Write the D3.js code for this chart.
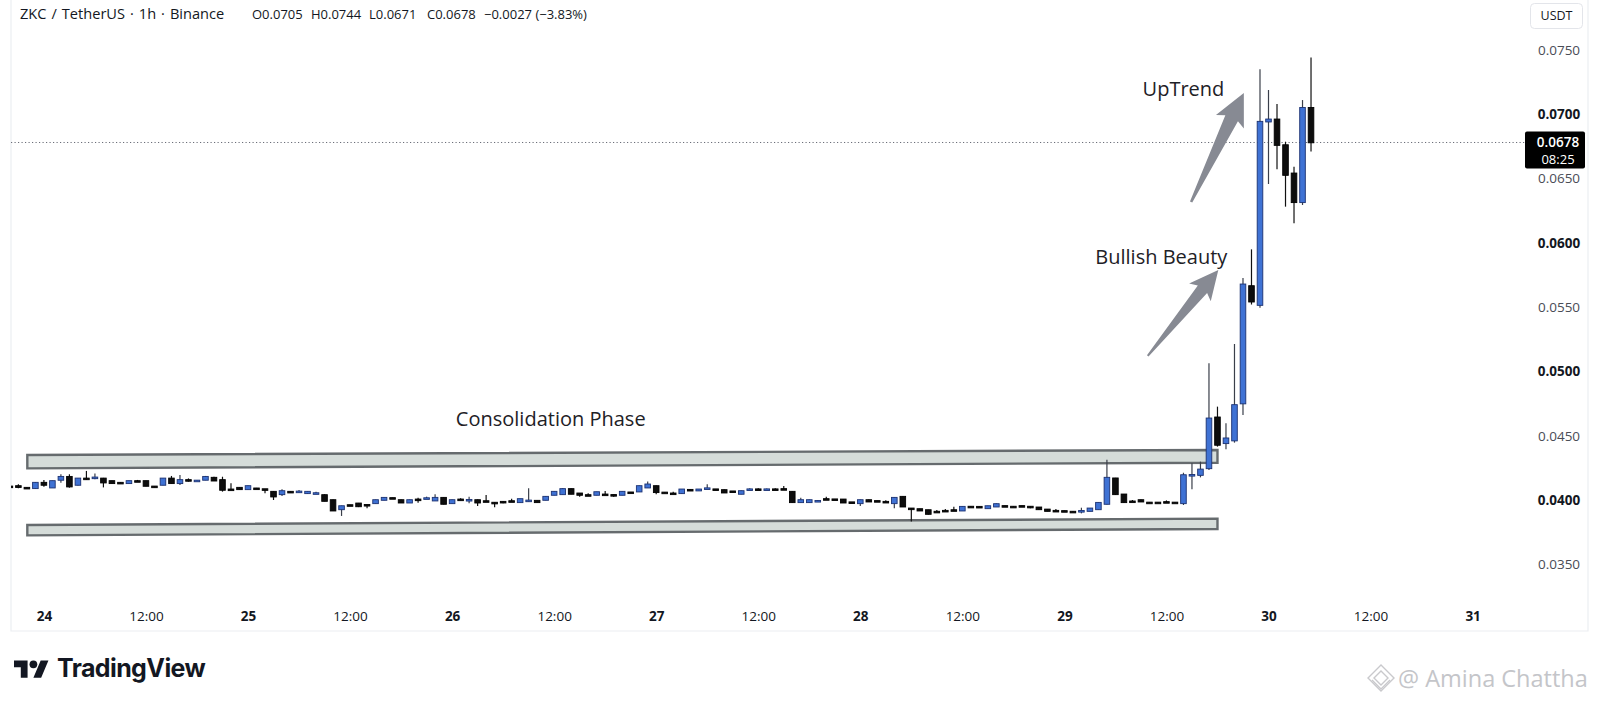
<!DOCTYPE html>
<html>
<head>
<meta charset="utf-8">
<script src="https://cdn.jsdelivr.net/npm/d3@7"></script>
<style>
  html, body { margin: 0; padding: 0; background: #fff; }
  svg { display: block; font-family: "Open Sans", "Noto Sans", sans-serif; }
</style>
</head>
<body>
<svg id="chart" width="1600" height="704"></svg>
<script>
(function () {
  "use strict";

  /* ── Data: ZKC/USDT 1h candles, first bar = 23 20:00 ── */
  const START = Date.UTC(2025, 9, 23, 20);
  const DAY0  = Date.UTC(2025, 9, 24);
  const HOUR  = 3600e3;

  const openP = [
    .04106,.04109,.04096,.04091,.04135,.04096,.04156,.04181,.04117,.04168,.04172,.04168,.04148,.04135,.04130,.04148,
    .04148,.04106,.04117,.04168,.04130,.04156,.04150,.04156,.04174,.04156,.04083,.04096,.04083,.04091,.04085,.04065,
    .04044,.04065,.04065,.04052,.04052,.04039,.04000,.03927,.03961,.03974,.03963,.03974,.04000,.04016,.04000,.03979,
    .04005,.04013,.03995,.04018,.03974,.04005,.04000,.04000,.03992,.03980,.03987,.03992,.03982,.03995,.03995,.04000,
    .04039,.04044,.04086,.04052,.04039,.04039,.04044,.04040,.04039,.04060,.04065,.04096,.04109,.04059,.04052,.04052,
    .04080,.04073,.04089,.04084,.04078,.04068,.04047,.04082,.04084,.04082,.04084,.04086,.04065,.03982,.03982,.03992,
    .04008,.04006,.04005,.03983,.03974,.04000,.03993,.03987,.03974,.04026,.03935,.03930,.03922,.03910,.03917,.03922,
    .03917,.03949,.03948,.03935,.03948,.03954,.03949,.03954,.03949,.03943,.03927,.03917,.03915,.03910,.03914,.03914,
    .03927,.03969,.04169,.04044,.03990,.04000,.03981,.03981,.03985,.03981,.03974,.04192,.04194,.04246,.04643,.04441,
    .04462,.04750,.05664,.05516,.06942,.06960,.06760,.06540,.06315,.07050
  ];
  const highP = [
    .04110,.04122,.04100,.04138,.04156,.04150,.04200,.04200,.04172,.04226,.04207,.04172,.04150,.04138,.04150,.04156,
    .04150,.04109,.04170,.04187,.04194,.04168,.04156,.04187,.04181,.04181,.04130,.04098,.04112,.04094,.04086,.04068,
    .04083,.04068,.04078,.04068,.04065,.04044,.04003,.03956,.03964,.03977,.03964,.04003,.04021,.04018,.04003,.04003,
    .04018,.04026,.04044,.04021,.04003,.04013,.04026,.04003,.04039,.03982,.03990,.04010,.04010,.04091,.03997,.04029,
    .04068,.04091,.04089,.04054,.04052,.04065,.04070,.04042,.04068,.04063,.04112,.04143,.04112,.04060,.04065,.04086,
    .04083,.04086,.04122,.04086,.04081,.04070,.04073,.04091,.04091,.04089,.04091,.04109,.04068,.04018,.04003,.04000,
    .04026,.04008,.04008,.03985,.04003,.04003,.03995,.03998,.04021,.04029,.03937,.03932,.03925,.03922,.03930,.03948,
    .03951,.03951,.03950,.03956,.03972,.03956,.03951,.03956,.03951,.03945,.03930,.03930,.03917,.03912,.03940,.03938,
    .03982,.04313,.04172,.04047,.04000,.04003,.03983,.03983,.03997,.03983,.04212,.04285,.04298,.05063,.04726,.04596,
    .05213,.05726,.05949,.07349,.07188,.07079,.06786,.06592,.07110,.07440
  ];
  const lowP = [
    .04098,.04091,.04090,.04088,.04104,.04094,.04135,.04096,.04112,.04156,.04161,.04098,.04128,.04130,.04128,.04143,
    .04106,.04098,.04115,.04128,.04117,.04143,.04148,.04154,.04148,.04065,.04080,.04081,.04081,.04088,.04052,.04000,
    .04031,.04060,.04057,.04047,.04047,.03990,.03914,.03876,.03956,.03945,.03935,.03972,.03998,.04008,.03977,.03977,
    .03979,.04008,.03992,.03966,.03972,.03998,.03974,.03953,.03989,.03943,.03975,.03989,.03980,.03987,.03980,.03998,
    .04036,.04042,.04044,.04026,.04036,.04036,.04041,.04026,.04036,.04055,.04062,.04094,.04044,.04052,.04049,.04049,
    .04073,.04070,.04086,.04080,.04055,.04060,.04044,.04078,.04078,.04078,.04078,.04083,.03979,.03980,.03980,.03987,
    .04005,.04002,.03977,.03979,.03953,.03985,.03989,.03984,.03935,.03945,.03832,.03914,.03888,.03907,.03914,.03919,
    .03914,.03945,.03944,.03933,.03945,.03950,.03945,.03950,.03935,.03925,.03912,.03914,.03911,.03906,.03896,.03912,
    .03925,.03965,.04040,.03979,.03986,.03985,.03977,.03977,.03982,.03977,.03961,.04083,.04176,.04233,.04415,.04394,
    .04446,.04660,.05520,.05495,.06457,.06572,.06281,.06152,.06294,.06710
  ];
  const closeP = [
    .04102,.04100,.04094,.04135,.04117,.04148,.04181,.04104,.04168,.04161,.04176,.04135,.04130,.04133,.04148,.04146,
    .04109,.04104,.04168,.04130,.04156,.04154,.04152,.04181,.04150,.04078,.04081,.04083,.04109,.04089,.04083,.04026,
    .04070,.04063,.04067,.04065,.04054,.03992,.03917,.03953,.03959,.03950,.03959,.04000,.04018,.04010,.03979,.04000,
    .04003,.04015,.04018,.03969,.04000,.04003,.04002,.03979,.03990,.03978,.03985,.03990,.04008,.03997,.03982,.04026,
    .04065,.04086,.04047,.04039,.04037,.04062,.04042,.04038,.04065,.04058,.04109,.04122,.04060,.04055,.04050,.04083,
    .04076,.04083,.04092,.04082,.04057,.04063,.04070,.04084,.04082,.04084,.04083,.04084,.03982,.04000,.04000,.03994,
    .04006,.04004,.03979,.03981,.04000,.03987,.03991,.03985,.04018,.03948,.03930,.03917,.03891,.03908,.03915,.03920,
    .03948,.03947,.03946,.03953,.03969,.03952,.03947,.03952,.03947,.03927,.03914,.03915,.03913,.03908,.03916,.03935,
    .03979,.04174,.04044,.03982,.03988,.03987,.03979,.03979,.03983,.03979,.04194,.04196,.04238,.04635,.04428,.04480,
    .04739,.05677,.05542,.06942,.06960,.06760,.06527,.06315,.07050,.06780
  ];

  const priceTicks  = [0.075, 0.070, 0.065, 0.060, 0.055, 0.050, 0.045, 0.040, 0.035];
  const strongTicks = [0.070, 0.060, 0.050, 0.040];
  const lastPrice = 0.0678, countdown = "08:25";

  const headerTitle = "ZKC / TetherUS · 1h · Binance";
  const headerValues = [
    { t: "O0.0705", x: 252 }, { t: "H0.0744", x: 311 },
    { t: "L0.0671", x: 369 }, { t: "C0.0678", x: 427 },
    { t: "\u22120.0027 (\u22123.83%)", x: 484 }
  ];

  /* zones drawn on the chart: [hour from 24 00:00, top, bottom] at each end */
  const zones = [
    { h0: -1.95, h1: 138, top0: 0.04350, bot0: 0.04246, top1: 0.04389, bot1: 0.04290 },
    { h0: -1.95, h1: 138, top0: 0.03806, bot0: 0.03725, top1: 0.03855, bot1: 0.03775 }
  ];
  const notes = [
    { text: "Consolidation Phase", h: 59.6,  p: 0.04572 },
    { text: "Bullish Beauty",      h: 131.4, p: 0.05835 },
    { text: "UpTrend",             h: 134.0, p: 0.07142 }
  ];
  const arrows = [
    { from: [129.8, 0.05120], to: [138.1, 0.05789], tailW: 2, neckW: 12, headW: 28, headLen: 25 },
    { from: [134.9, 0.06317], to: [141.1, 0.07165], tailW: 2.5, neckW: 14, headW: 31, headLen: 28 }
  ];

  const candles = openP.map((o, i) => ({
    t: new Date(START + i * HOUR), o, h: highP[i], l: lowP[i], c: closeP[i]
  }));

  /* ── Scales ── */
  const PANE_L = 11, PANE_R = 1525, PANE_T = 0, PANE_B = 631;
  const x = d3.scaleUtc().domain([DAY0, Date.UTC(2025, 9, 31)]).range([43.9, 1472.6]);
  const y = d3.scaleLinear().domain([0.035, 0.075]).range([564.3, 49.9]);
  const hx = h => x(new Date(DAY0 + h * HOUR));

  const svg = d3.select("#chart");
  svg.append("rect").attr("width", 1600).attr("height", 704).attr("fill", "#fff");

  const defs = svg.append("defs");
  defs.append("clipPath").attr("id", "pane-clip").append("rect")
    .attr("x", PANE_L).attr("y", PANE_T).attr("width", PANE_R - PANE_L).attr("height", 590);

  /* frame */
  svg.append("path")
    .attr("d", `M${PANE_L},0V${PANE_B}H1588V0`)
    .attr("fill", "none").attr("stroke", "#eceef2").attr("stroke-width", 1.2);

  /* ── Header ── */
  svg.append("text").attr("x", 20).attr("y", 19)
    .attr("font-size", 14.6).attr("word-spacing", 1.2).attr("fill", "#131722")
    .text(headerTitle);
  svg.append("g").selectAll("text").data(headerValues).join("text")
    .attr("x", d => d.x).attr("y", 19)
    .attr("font-size", 13).attr("fill", "#131722")
    .text(d => d.t);

  /* ── Last price dotted line ── */
  svg.append("line")
    .attr("x1", PANE_L).attr("x2", PANE_R)
    .attr("y1", y(lastPrice)).attr("y2", y(lastPrice))
    .attr("stroke", "#6a6d78").attr("stroke-width", 1).attr("stroke-dasharray", "1.2,2.3");

  const pane = svg.append("g").attr("clip-path", "url(#pane-clip)");

  /* ── Zones ── */
  pane.append("g").selectAll("path").data(zones).join("path")
    .attr("d", z => d3.line()([
      [hx(z.h0), y(z.top0)], [hx(z.h1), y(z.top1)],
      [hx(z.h1), y(z.bot1)], [hx(z.h0), y(z.bot0)]
    ]) + "Z")
    .attr("fill", "#d5dcd9").attr("stroke", "#666b6e").attr("stroke-width", 2.4)
    .attr("stroke-linejoin", "miter");

  /* ── Candles ── */
  const BW = 5.6;
  const gC = pane.append("g");
  const cg = gC.selectAll("g").data(candles).join("g")
    .attr("transform", d => `translate(${x(d.t)},0)`);
  cg.append("line")
    .attr("y1", d => y(d.h)).attr("y2", d => y(d.l))
    .attr("stroke", d => d.c >= d.o ? "#3a3f4a" : "#111").attr("stroke-width", 1.2);
  cg.append("rect")
    .attr("x", -BW / 2).attr("width", BW)
    .attr("y", d => Math.min(y(d.o), y(d.c)) - 0.3)
    .attr("height", d => Math.max(1.6, Math.abs(y(d.o) - y(d.c)) + 0.6))
    .attr("fill", d => d.c >= d.o ? "#3f72d4" : "#0d0d0d")
    .attr("stroke", d => d.c >= d.o ? "#1c3272" : "#000")
    .attr("stroke-width", 0.9);

  /* ── Annotations ── */
  function arrowPath(t, h, a) {
    const dx = h[0] - t[0], dy = h[1] - t[1], L = Math.hypot(dx, dy);
    const ux = dx / L, uy = dy / L, nx = -uy, ny = ux;
    const P = (d, w) => [t[0] + ux * d + nx * w, t[1] + uy * d + ny * w];
    const neck = L - a.headLen, barb = 4;
    return d3.line()([
      P(0, a.tailW / 2), P(neck, a.neckW / 2), P(neck - barb, a.headW / 2), P(L, 0),
      P(neck - barb, -a.headW / 2), P(neck, -a.neckW / 2), P(0, -a.tailW / 2)
    ]) + "Z";
  }
  svg.append("g").selectAll("path").data(arrows).join("path")
    .attr("d", a => arrowPath([hx(a.from[0]), y(a.from[1])], [hx(a.to[0]), y(a.to[1])], a))
    .attr("fill", "#878a93");

  svg.append("g").selectAll("text").data(notes).join("text")
    .attr("x", d => hx(d.h)).attr("y", d => y(d.p))
    .attr("text-anchor", "middle").attr("font-size", 20).attr("fill", "#1e2126")
    .text(d => d.text);

  /* ── Price axis ── */
  const yAxis = svg.append("g").attr("transform", "translate(1559,0)")
    .call(d3.axisRight(y).tickValues(priceTicks).tickFormat(d3.format(".4f")).tickSize(0).tickPadding(0));
  yAxis.select(".domain").remove();
  yAxis.selectAll("text")
    .attr("text-anchor", "middle").attr("x", 0)
    .attr("font-family", "Open Sans").attr("font-size", 13.5)
    .attr("fill", d => strongTicks.includes(d) ? "#131722" : "#4a4d56")
    .attr("font-weight", d => strongTicks.includes(d) ? 700 : 400);

  /* USDT button */
  const ub = svg.append("g");
  ub.append("rect").attr("x", 1530.5).attr("y", 3.5).attr("width", 52).attr("height", 25).attr("rx", 4)
    .attr("fill", "#fff").attr("stroke", "#e3e5ea");
  ub.append("text").attr("x", 1556.5).attr("y", 20).attr("text-anchor", "middle")
    .attr("font-size", 12.5).attr("fill", "#131722").text("USDT");

  /* last price label */
  const lp = svg.append("g").attr("transform", `translate(1525,${y(lastPrice)})`);
  lp.append("rect").attr("x", 0).attr("y", -11).attr("width", 60).attr("height", 37).attr("rx", 2)
    .attr("fill", "#000");
  lp.append("text").attr("x", 33).attr("y", 4.5).attr("text-anchor", "middle")
    .attr("font-size", 13.5).attr("font-weight", 600).attr("fill", "#fff").text(d3.format(".4f")(lastPrice));
  lp.append("text").attr("x", 33).attr("y", 22).attr("text-anchor", "middle")
    .attr("font-size", 13).attr("fill", "#fff").text(countdown);

  /* ── Time axis ── */
  const fmtT = d => d.getUTCHours() === 0 ? d3.utcFormat("%-d")(d) : d3.utcFormat("%H:%M")(d);
  const xAxis = svg.append("g").attr("transform", "translate(0,608)")
    .call(d3.axisBottom(x).ticks(d3.utcHour.every(12)).tickFormat(fmtT).tickSize(0).tickPadding(3));
  xAxis.select(".domain").remove();
  xAxis.selectAll("text")
    .attr("font-family", "Open Sans").attr("font-size", 13.5).attr("fill", "#131722")
    .attr("font-weight", d => d.getUTCHours() === 0 ? 700 : 400);

  /* ── TradingView logo ── */
  const logo = svg.append("g").attr("transform", "translate(14,656.5) scale(0.97)");
  logo.append("path").attr("d", "M14 22H7V11H0V4h14v18zM28 22h-8l7.5-18h8L28 22z").attr("fill", "#131722");
  logo.append("circle").attr("cx", 20).attr("cy", 8).attr("r", 4).attr("fill", "#131722");
  svg.append("text").attr("x", 57).attr("y", 677)
    .attr("font-family", "Inter").attr("font-weight", 700).attr("font-size", 25)
    .attr("letter-spacing", -0.6).attr("fill", "#131722").text("TradingView");

  /* ── watermark ── */
  const wm = svg.append("g").attr("fill", "none").attr("stroke", "#c9c9cc").attr("stroke-width", 1.4);
  wm.append("path").attr("d", "M1381,665 L1394,678 L1381,691 L1368,678 Z");
  wm.append("path").attr("d", "M1381,671 L1388,678 L1381,685 L1374,678 Z");
  wm.append("path").attr("d", "M1372,680 L1381,689 L1390,680");
  svg.append("text").attr("x", 1398).attr("y", 687)
    .attr("font-size", 23.5).attr("fill", "#c4c5c9").text("@ Amina Chattha");
})();
</script>
</body>
</html>
